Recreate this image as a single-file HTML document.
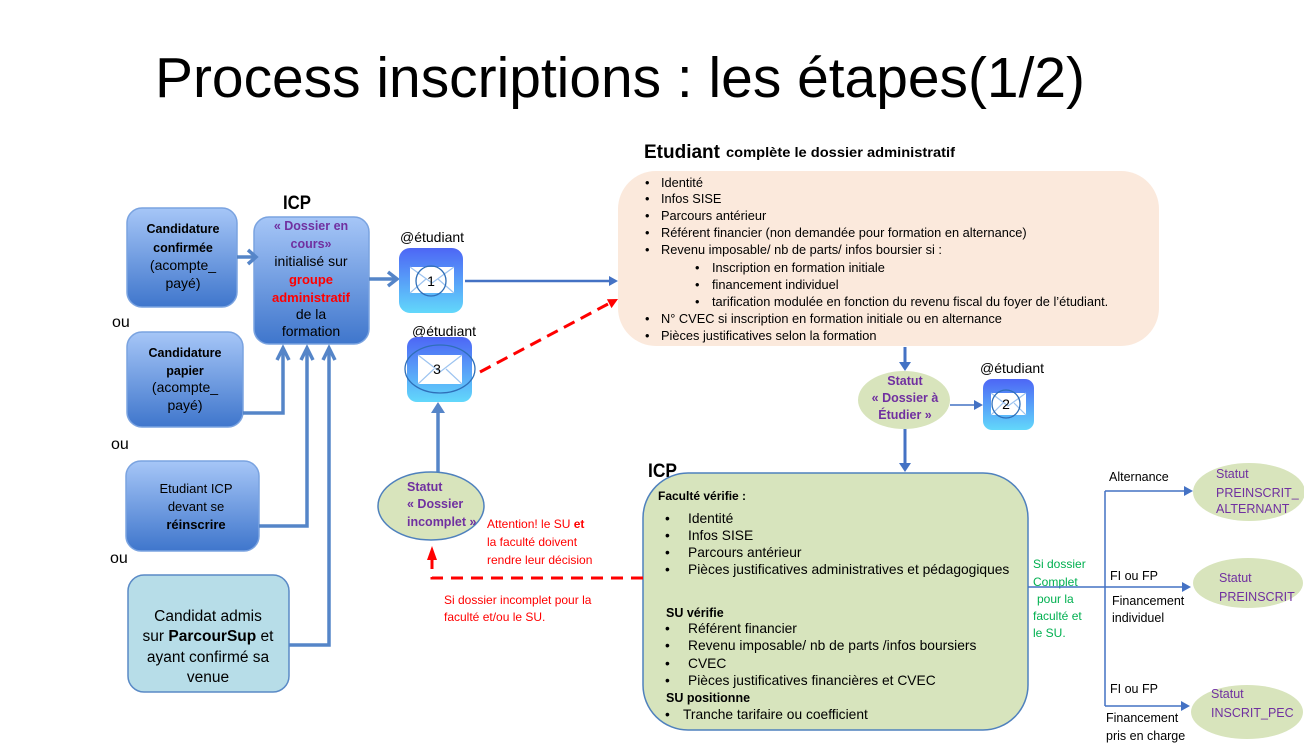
<!DOCTYPE html>
<html><head><meta charset="utf-8"><style>
html,body{margin:0;padding:0;background:#fff;}
svg{display:block;}
text{font-family:"Liberation Sans",Arial,sans-serif;}
</style></head><body>
<svg width="1304" height="749" viewBox="0 0 1304 749" xmlns="http://www.w3.org/2000/svg">
<defs>
<linearGradient id="gb" x1="0" y1="0" x2="0" y2="1"><stop offset="0" stop-color="#a6c6f7"/><stop offset="1" stop-color="#3f76cc"/></linearGradient>
<linearGradient id="env" x1="0" y1="0" x2="0" y2="1"><stop offset="0" stop-color="#4d66f5"/><stop offset="1" stop-color="#62d8fb"/></linearGradient>
</defs>
<rect width="1304" height="749" fill="#fff"/>

<!-- Title -->
<text x="155" y="97" font-size="57" textLength="930" lengthAdjust="spacingAndGlyphs" fill="#000">Process inscriptions : les étapes(1/2)</text>

<!-- ICP label 1 -->
<text x="283" y="209" font-size="19" font-weight="bold" textLength="28" lengthAdjust="spacingAndGlyphs">ICP</text>

<!-- left boxes -->
<rect x="127" y="208" width="110" height="99" rx="15" fill="url(#gb)" stroke="#7aa3e0" stroke-width="1.5"/>
<rect x="254" y="217" width="115" height="127" rx="15" fill="url(#gb)" stroke="#7aa3e0" stroke-width="1.5"/>
<rect x="127" y="332" width="116" height="95" rx="15" fill="url(#gb)" stroke="#7aa3e0" stroke-width="1.5"/>
<rect x="126" y="461" width="133" height="90" rx="15" fill="url(#gb)" stroke="#7aa3e0" stroke-width="1.5"/>
<rect x="128" y="575" width="161" height="117" rx="16" fill="#b7dde8" stroke="#5a8ac6" stroke-width="1.5"/>

<!-- box1 text -->
<g text-anchor="middle" font-size="13">
<text x="183" y="233" font-weight="bold" font-size="12.5">Candidature</text>
<text x="183" y="252" font-weight="bold" font-size="12.5">confirmée</text>
<text x="183" y="270" font-size="14">(acompte_</text>
<text x="183" y="288" font-size="14">payé)</text>
</g>
<!-- box2 text -->
<g text-anchor="middle">
<text x="311" y="230" font-size="12.5" font-weight="bold" fill="#7030a0">« Dossier en</text>
<text x="311" y="248" font-size="12.5" font-weight="bold" fill="#7030a0">cours»</text>
<text x="311" y="266" font-size="14">initialisé sur</text>
<text x="311" y="284" font-size="13" font-weight="bold" fill="#ff0000">groupe</text>
<text x="311" y="302" font-size="13" font-weight="bold" fill="#ff0000">administratif</text>
<text x="311" y="319" font-size="14">de la</text>
<text x="311" y="336" font-size="14">formation</text>
</g>
<!-- box3 text -->
<g text-anchor="middle">
<text x="185" y="357" font-size="12.5" font-weight="bold">Candidature</text>
<text x="185" y="375" font-size="12.5" font-weight="bold">papier</text>
<text x="185" y="392" font-size="14">(acompte_</text>
<text x="185" y="410" font-size="14">payé)</text>
</g>
<!-- box4 text -->
<g text-anchor="middle">
<text x="196" y="493" font-size="13">Etudiant ICP</text>
<text x="196" y="511" font-size="13">devant se</text>
<text x="196" y="529" font-size="13" font-weight="bold">réinscrire</text>
</g>
<!-- box5 text -->
<g text-anchor="middle" font-size="15.5">
<text x="208" y="621">Candidat admis</text>
<text x="208" y="641">sur <tspan font-weight="bold">ParcourSup</tspan> et</text>
<text x="208" y="662">ayant confirmé sa</text>
<text x="208" y="682">venue</text>
</g>

<!-- ou labels -->
<text x="112" y="327" font-size="16">ou</text>
<text x="111" y="449" font-size="16">ou</text>
<text x="110" y="563" font-size="16">ou</text>

<!-- left connectors -->
<g stroke="#5585c8" stroke-width="3.5" fill="none" stroke-linejoin="miter">
<line x1="237" y1="257" x2="256" y2="257"/>
<polyline points="248,250 256,257 248,264"/>
<polyline points="243,413 283,413 283,348"/>
<polyline points="277,360 283,348 289,360"/>
<polyline points="259,526 307,526 307,348"/>
<polyline points="301,360 307,348 313,360"/>
<polyline points="289,645 329,645 329,348"/>
<polyline points="323,360 329,348 335,360"/>
<line x1="369" y1="279" x2="397" y2="279"/>
<polyline points="388,272 397,279 388,286"/>
</g>

<!-- Envelope 1 -->
<text x="400" y="242" font-size="14">@étudiant</text>
<rect x="399" y="248" width="64" height="65" rx="11" fill="url(#env)"/>
<rect x="410" y="267" width="44" height="26" fill="#fff"/>
<polyline points="410,267 432,283 454,267" fill="none" stroke="#9cc3f0" stroke-width="1.2"/>
<line x1="410" y1="293" x2="426" y2="279" stroke="#9cc3f0" stroke-width="1.2"/>
<line x1="454" y1="293" x2="438" y2="279" stroke="#9cc3f0" stroke-width="1.2"/>
<circle cx="431" cy="281" r="15" fill="none" stroke="#2f6fb8" stroke-width="1.3"/>
<text x="431" y="286" font-size="14" text-anchor="middle">1</text>

<!-- Envelope 3 -->
<text x="412" y="336" font-size="14">@étudiant</text>
<rect x="407" y="337" width="65" height="65" rx="10" fill="url(#env)"/>
<rect x="418" y="355" width="44" height="29" fill="#fff"/>
<polyline points="418,355 440,372 462,355" fill="none" stroke="#9cc3f0" stroke-width="1.2"/>
<line x1="418" y1="384" x2="434" y2="369" stroke="#9cc3f0" stroke-width="1.2"/>
<line x1="462" y1="384" x2="446" y2="369" stroke="#9cc3f0" stroke-width="1.2"/>
<ellipse cx="440" cy="369" rx="35" ry="24" fill="none" stroke="#2f6fb8" stroke-width="1.3"/>
<text x="437" y="374" font-size="14" text-anchor="middle">3</text>

<!-- Envelope 2 -->
<text x="980" y="373" font-size="14">@étudiant</text>
<rect x="983" y="379" width="51" height="51" rx="9" fill="url(#env)"/>
<rect x="991" y="393" width="35" height="22" fill="#fff"/>
<polyline points="991,393 1008,406 1026,393" fill="none" stroke="#9cc3f0" stroke-width="1.2"/>
<line x1="991" y1="415" x2="1003" y2="403" stroke="#9cc3f0" stroke-width="1.2"/>
<line x1="1026" y1="415" x2="1014" y2="403" stroke="#9cc3f0" stroke-width="1.2"/>
<circle cx="1006" cy="404" r="14" fill="none" stroke="#2f6fb8" stroke-width="1.3"/>
<text x="1006" y="409" font-size="14" text-anchor="middle">2</text>

<!-- env1 -> orange -->
<line x1="465" y1="281" x2="610" y2="281" stroke="#4472c4" stroke-width="2.5"/>
<polygon points="609,276 618,281 609,286" fill="#4472c4"/>
<!-- red dashed env3 -> orange -->
<line x1="480" y1="372" x2="608" y2="304" stroke="#ff0000" stroke-width="3" stroke-dasharray="12 7"/>
<polygon points="618,299 611.5,308.1 606.9,299.3" fill="#ff0000"/>

<!-- Orange box -->
<text x="644" y="158" font-size="19" font-weight="bold" textLength="76" lengthAdjust="spacingAndGlyphs">Etudiant</text>
<text x="726" y="157" font-size="14" font-weight="bold" textLength="229" lengthAdjust="spacingAndGlyphs">complète le dossier administratif</text>
<rect x="618" y="171" width="541" height="175" rx="38" fill="#fbe9dc"/>
<g font-size="12.8">
<text x="645" y="187">•</text><text x="661" y="187">Identité</text>
<text x="645" y="203">•</text><text x="661" y="203">Infos SISE</text>
<text x="645" y="220">•</text><text x="661" y="220">Parcours antérieur</text>
<text x="645" y="237">•</text><text x="661" y="237">Référent financier (non demandée pour formation en alternance)</text>
<text x="645" y="254">•</text><text x="661" y="254">Revenu imposable/ nb de parts/ infos boursier si :</text>
<text x="695" y="272">•</text><text x="712" y="272">Inscription en formation initiale</text>
<text x="695" y="289">•</text><text x="712" y="289">financement individuel</text>
<text x="695" y="306">•</text><text x="712" y="306">tarification modulée en fonction du revenu fiscal du foyer de l’étudiant.</text>
<text x="645" y="323">•</text><text x="661" y="323">N° CVEC si inscription en formation initiale ou en alternance</text>
<text x="645" y="340">•</text><text x="661" y="340">Pièces justificatives selon la formation</text>
</g>

<!-- orange -> ellipse -->
<line x1="905" y1="347" x2="905" y2="363" stroke="#4472c4" stroke-width="3"/>
<polygon points="899,362 905,371 911,362" fill="#4472c4"/>
<!-- Statut Dossier a Etudier -->
<ellipse cx="904" cy="400" rx="46" ry="29" fill="#d8e4bc"/>
<g text-anchor="middle" font-size="12.5" font-weight="bold" fill="#7030a0">
<text x="905" y="385">Statut</text>
<text x="905" y="402">« Dossier à</text>
<text x="905" y="419">Étudier »</text>
</g>
<line x1="950" y1="405" x2="975" y2="405" stroke="#4472c4" stroke-width="1.5"/>
<polygon points="974,400 983,405 974,410" fill="#4472c4"/>
<line x1="905" y1="429" x2="905" y2="464" stroke="#4472c4" stroke-width="3"/>
<polygon points="899,463 905,472 911,463" fill="#4472c4"/>

<!-- ICP label 2 -->
<text x="648" y="477" font-size="19" font-weight="bold" textLength="29" lengthAdjust="spacingAndGlyphs">ICP</text>

<!-- Green box -->
<rect x="643" y="473" width="385" height="257" rx="45" fill="#d7e4bd" stroke="#4f81bd" stroke-width="1.5"/>
<text x="658" y="500" font-size="12" font-weight="bold">Faculté vérifie :</text>
<g font-size="13.8">
<text x="665" y="523">•</text><text x="688" y="523">Identité</text>
<text x="665" y="540">•</text><text x="688" y="540">Infos SISE</text>
<text x="665" y="557">•</text><text x="688" y="557">Parcours antérieur</text>
<text x="665" y="574">•</text><text x="688" y="574">Pièces justificatives administratives et pédagogiques</text>
<text x="665" y="633">•</text><text x="688" y="633">Référent financier</text>
<text x="665" y="650">•</text><text x="688" y="650">Revenu imposable/ nb de parts /infos boursiers</text>
<text x="665" y="668">•</text><text x="688" y="668">CVEC</text>
<text x="665" y="685">•</text><text x="688" y="685">Pièces justificatives financières et CVEC</text>
<text x="665" y="719">•</text><text x="683" y="719">Tranche tarifaire ou coefficient</text>
</g>
<text x="666" y="617" font-size="12.5" font-weight="bold">SU vérifie</text>
<text x="666" y="702" font-size="12.5" font-weight="bold">SU positionne</text>

<!-- red dashed from green box to incomplete -->
<polyline points="643,578 432,578 432,560" fill="none" stroke="#ff0000" stroke-width="3" stroke-dasharray="12 8"/>
<polygon points="427,560 432,546 437,560" fill="#ff0000"/>

<!-- incomplete ellipse -->
<line x1="438" y1="472" x2="438" y2="410" stroke="#5585c8" stroke-width="3.5"/>
<polygon points="431,413 438,402 445,413" fill="#5585c8"/>
<ellipse cx="431" cy="506" rx="53" ry="34" fill="#d8e4bc" stroke="#4f81bd" stroke-width="1.5"/>
<g font-size="12.5" font-weight="bold" fill="#7030a0">
<text x="407" y="491">Statut</text>
<text x="407" y="508">« Dossier</text>
<text x="407" y="526">incomplet »</text>
</g>

<!-- red texts -->
<g font-size="12" fill="#ff0000">
<text x="487" y="528">Attention! le SU <tspan font-weight="bold">et</tspan></text>
<text x="487" y="546">la faculté doivent</text>
<text x="487" y="564">rendre leur décision</text>
<text x="444" y="604">Si dossier incomplet pour la</text>
<text x="444" y="621">faculté et/ou le SU.</text>
</g>

<!-- green texts -->
<g font-size="12" fill="#00b050">
<text x="1033" y="568">Si dossier</text>
<text x="1033" y="586">Complet</text>
<text x="1037" y="603">pour la</text>
<text x="1033" y="620">faculté et</text>
<text x="1033" y="637">le SU.</text>
</g>

<!-- right branches -->
<g stroke="#4472c4" stroke-width="1.5" fill="none">
<line x1="1028" y1="587" x2="1183" y2="587"/>
<line x1="1105" y1="491" x2="1105" y2="706"/>
<line x1="1105" y1="491" x2="1185" y2="491"/>
<line x1="1105" y1="706" x2="1182" y2="706"/>
</g>
<polygon points="1182,582 1191,587 1182,592" fill="#4472c4"/>
<polygon points="1184,486 1193,491 1184,496" fill="#4472c4"/>
<polygon points="1181,701 1190,706 1181,711" fill="#4472c4"/>

<g font-size="12.5" fill="#000">
<text x="1109" y="481">Alternance</text>
<text x="1110" y="580">FI ou FP</text>
<text x="1112" y="605">Financement</text>
<text x="1112" y="622">individuel</text>
<text x="1110" y="693">FI ou FP</text>
<text x="1106" y="722">Financement</text>
<text x="1106" y="740">pris en charge</text>
</g>

<!-- right ellipses -->
<ellipse cx="1249" cy="492" rx="56" ry="29" fill="#d8e4bc"/>
<ellipse cx="1248" cy="583" rx="55" ry="25" fill="#d8e4bc"/>
<ellipse cx="1247" cy="712" rx="56" ry="27" fill="#d8e4bc"/>
<g font-size="12.5" fill="#7030a0">
<text x="1216" y="478">Statut</text>
<text x="1216" y="497">PREINSCRIT_</text>
<text x="1216" y="513">ALTERNANT</text>
<text x="1219" y="582">Statut</text>
<text x="1219" y="601">PREINSCRIT</text>
<text x="1211" y="698">Statut</text>
<text x="1211" y="717">INSCRIT_PEC</text>
</g>
</svg>
</body></html>
